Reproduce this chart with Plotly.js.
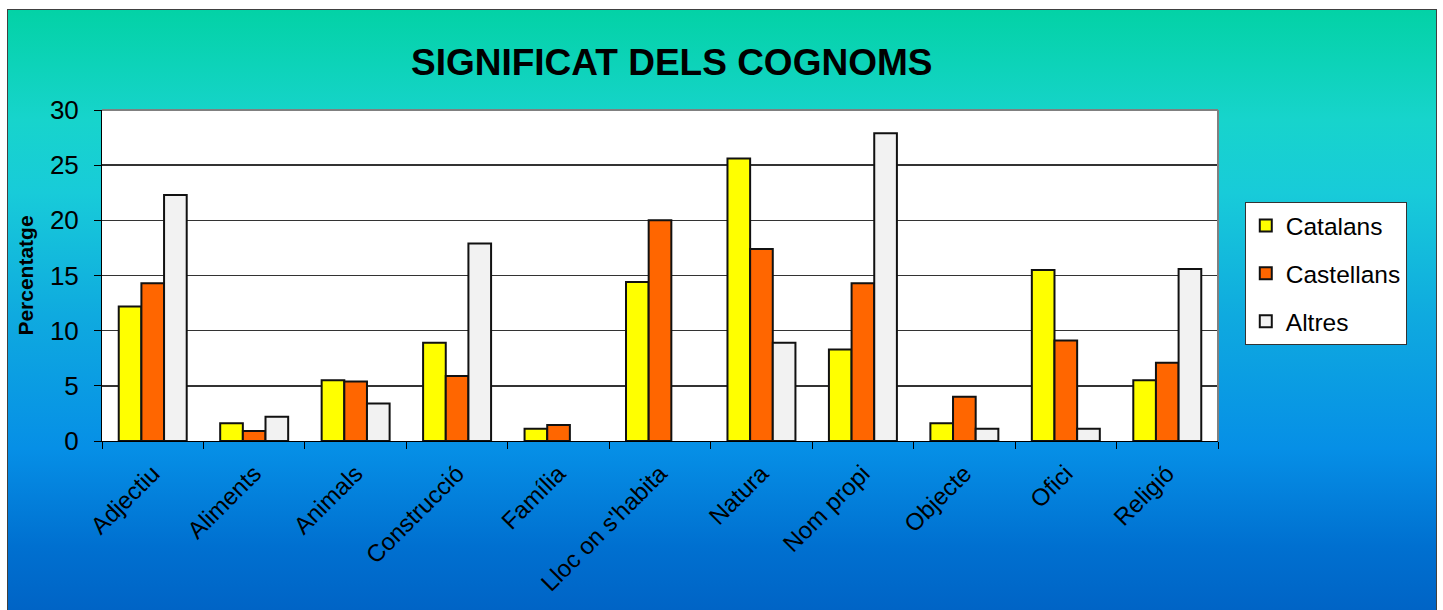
<!DOCTYPE html>
<html>
<head>
<meta charset="utf-8">
<script src="https://cdn.plot.ly/plotly-3.0.1.min.js"></script>
<style>
  html, body { margin:0; padding:0; background:#ffffff; width:1443px; height:610px; overflow:hidden; }
  #bg { position:absolute; left:7px; top:9px; width:1428px; height:610px; border:1px solid #404040;
        background: linear-gradient(to bottom, #03d2a6 0%, #17d4cc 18%, #18cbd9 30%, #0faadf 50%, #068fe6 72%, #0070d0 88%, #0062c4 100%); }
  #chart { position:absolute; left:0; top:0; width:1443px; height:610px; }
</style>
</head>
<body>
<div id="bg"></div>
<div id="chart"></div>
<script>
const categories = ["Adjectiu","Aliments","Animals","Construcció","Família","Lloc on s'habita","Natura","Nom propi","Objecte","Ofici","Religió"];
const catalans   = [12.2, 1.6, 5.5, 8.9, 1.1, 14.4, 25.6, 8.3, 1.6, 15.5, 5.5];
const castellans = [14.3, 0.9, 5.4, 5.9, 1.45, 20.0, 17.4, 14.3, 4.0, 9.1, 7.1];
const altres     = [22.3, 2.2, 3.4, 17.9, null, null, 8.9, 27.9, 1.1, 1.1, 15.6];
const yTicks = [0, 5, 10, 15, 20, 25, 30];

const line = {color:'#111111', width:2};
const traces = [
  {type:'bar', name:'Catalans', x:categories, y:catalans, legendgroup:'a', marker:{color:'#ffff00', line:line}},
  {type:'bar', name:'Castellans', x:categories, y:castellans, legendgroup:'b', marker:{color:'#ff6600', line:line}},
  {type:'bar', name:'Altres', x:categories, y:altres, legendgroup:'c', marker:{color:'#f2f2f2', line:line}}
];

const layout = {
  width:1443, height:610,
  paper_bgcolor:'rgba(0,0,0,0)',
  plot_bgcolor:'#ffffff',
  margin:{l:102, r:225, t:110, b:169, pad:0},
  font:{family:'"Liberation Sans", Arial, sans-serif', color:'#000000'},
  title:{text:'<b>SIGNIFICAT DELS COGNOMS</b>', font:{size:37, color:'#000000'}, x:0.4655, xanchor:'center', y:0.898, yanchor:'middle'},
  barmode:'group', bargap:0.33, bargroupgap:0,
  showlegend:true,
  legend:{x:1.024, xanchor:'left', y:0.722, yanchor:'top', bgcolor:'#ffffff', bordercolor:'#333333', borderwidth:1,
          font:{size:24.5}, tracegroupgap:13, traceorder:'grouped'},
  xaxis:{type:'category', tickangle:-45, tickfont:{size:24}, showline:true, linecolor:'#000000', linewidth:1,
         ticks:'outside', tickson:'boundaries', ticklen:7, tickcolor:'#000000', showgrid:false, mirror:false,
         ticklabelstandoff:8},
  yaxis:{range:[0,30], tickvals:yTicks, tickfont:{size:26}, showline:true, linecolor:'#000000', linewidth:1,
         ticks:'outside', ticklen:7, tickcolor:'#000000', showgrid:true, gridcolor:'#333333', gridwidth:1.5, zeroline:false,
         ticklabelstandoff:10,
         title:{text:'<b>Percentatge</b>', font:{size:21}, standoff:10}},
  shapes:[
    {type:'line', xref:'paper', yref:'paper', x0:0, x1:1, y0:1, y1:1, line:{color:'#808080', width:2}},
    {type:'line', xref:'paper', yref:'paper', x0:1, x1:1, y0:0, y1:1, line:{color:'#808080', width:2}}
  ]
};

Plotly.newPlot('chart', traces, layout, {displayModeBar:false, staticPlot:true});
</script>
</body>
</html>
